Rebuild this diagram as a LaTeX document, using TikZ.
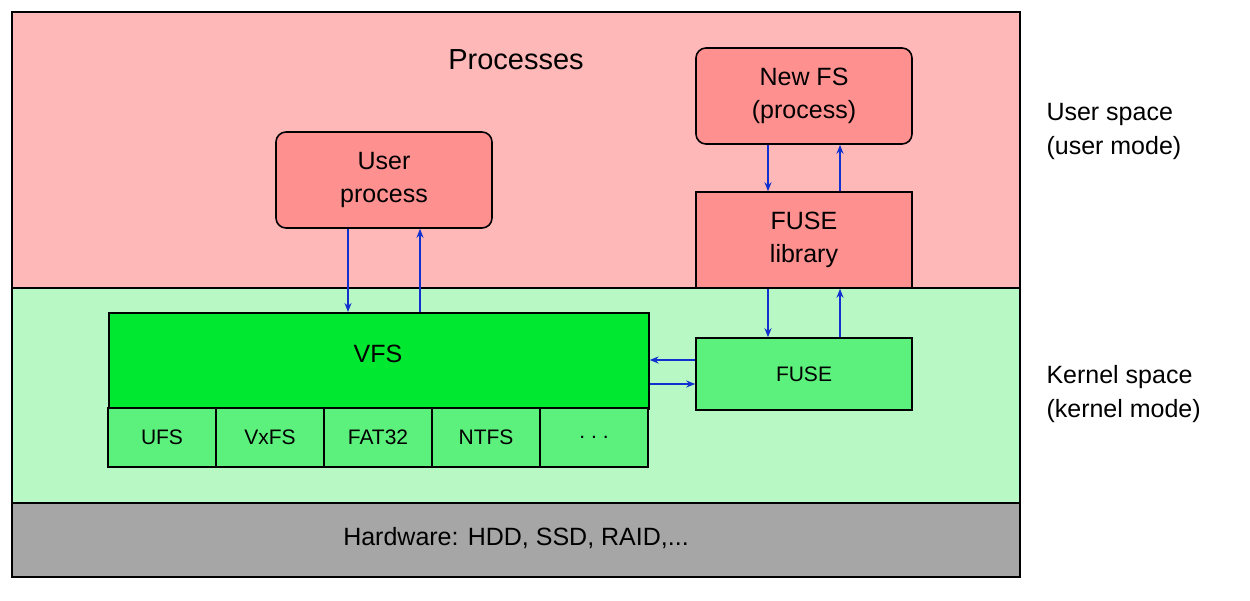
\documentclass[tikz,border=0pt]{standalone}
\usepackage{fontspec}
\setmainfont{Liberation Sans}
\usetikzlibrary{arrows.meta}
\definecolor{upink}{HTML}{FFB8B8}
\definecolor{kgreen}{HTML}{B8F8C4}
\definecolor{hgray}{HTML}{A6A6A6}
\definecolor{boxred}{HTML}{FF9090}
\definecolor{vfsg}{HTML}{00E830}
\definecolor{fsg}{HTML}{5CF07C}
\definecolor{arr}{HTML}{1030D0}
\begin{document}
\begin{tikzpicture}[x=1pt,y=-1pt,
  box/.style={draw=black,line width=1.6pt,inner sep=0pt,align=center,font=\fontsize{25}{33}\selectfont},
  rbox/.style={box,fill=boxred,rounded corners=10pt},
  fs/.style={box,fill=fsg,font=\fontsize{21}{25}\selectfont,minimum width=108pt,minimum height=59pt},
  ar/.style={draw=arr,line width=1.8pt,-{Stealth[length=9pt,width=7pt]}},
  lab/.style={align=left,anchor=west,font=\fontsize{25}{34}\selectfont}]
\useasboundingbox (0,0) rectangle (1250,600);
\fill[upink] (12,12) rectangle (1020,288);
\fill[kgreen] (12,288) rectangle (1020,503);
\fill[hgray] (12,503) rectangle (1020,577);
\draw[line width=1.6pt] (12,288) -- (1020,288);
\draw[line width=1.6pt] (12,503) -- (1020,503);
\draw[line width=2pt] (12,12) rectangle (1020,577);
\node[font=\fontsize{29}{34}\selectfont] (proc) at (516,60) {Processes};
\node[font=\fontsize{25}{30}\selectfont] (hw) at (516,538) {Hardware: HDD, SSD, RAID,...};
\node[rbox,minimum width=216pt,minimum height=96pt] (up) at (384,180) {User\\process};
\node[rbox,minimum width=216pt,minimum height=96pt] (nfs) at (804,96) {New FS\\(process)};
\node[box,fill=boxred,minimum width=216pt,minimum height=96pt] (fl) at (804,240) {FUSE\\library};
\node[box,fill=vfsg,minimum width=540pt,minimum height=96pt,anchor=north west] (vfs) at (108,312) {};
\node[font=\fontsize{25}{30}\selectfont] (vfst) at (378,354) {VFS};
\node[box,fill=fsg,minimum width=216pt,minimum height=72pt,font=\fontsize{21}{25}\selectfont] (fk) at (804,374) {FUSE};
\node[fs] (ufs) at (162,437.5) {UFS};
\node[fs] (vx) at (270,437.5) {VxFS};
\node[fs] (fat) at (378,437.5) {FAT32};
\node[fs] (ntfs) at (486,437.5) {NTFS};
\node[fs] (dots) at (594,437.5) {.\ .\ .};
\node[lab] (us) at (1043,131) {User space\\(user mode)};
\node[lab] (ks) at (1043,394) {Kernel space\\(kernel mode)};
\draw[ar] (up.south -| 348,0) -- (vfs.north -| 348,0);
\draw[ar] (vfs.north -| 420,0) -- (up.south -| 420,0);
\draw[ar] (nfs.south -| 768,0) -- (fl.north -| 768,0);
\draw[ar] (fl.north -| 840,0) -- (nfs.south -| 840,0);
\draw[ar] (fl.south -| 768,0) -- (fk.north -| 768,0);
\draw[ar] (fk.north -| 840,0) -- (fl.south -| 840,0);
\draw[ar] (fk.west |- 0,360) -- (vfs.east |- 0,360);
\draw[ar] (vfs.east |- 0,384) -- (fk.west |- 0,384);
\end{tikzpicture}
\end{document}
